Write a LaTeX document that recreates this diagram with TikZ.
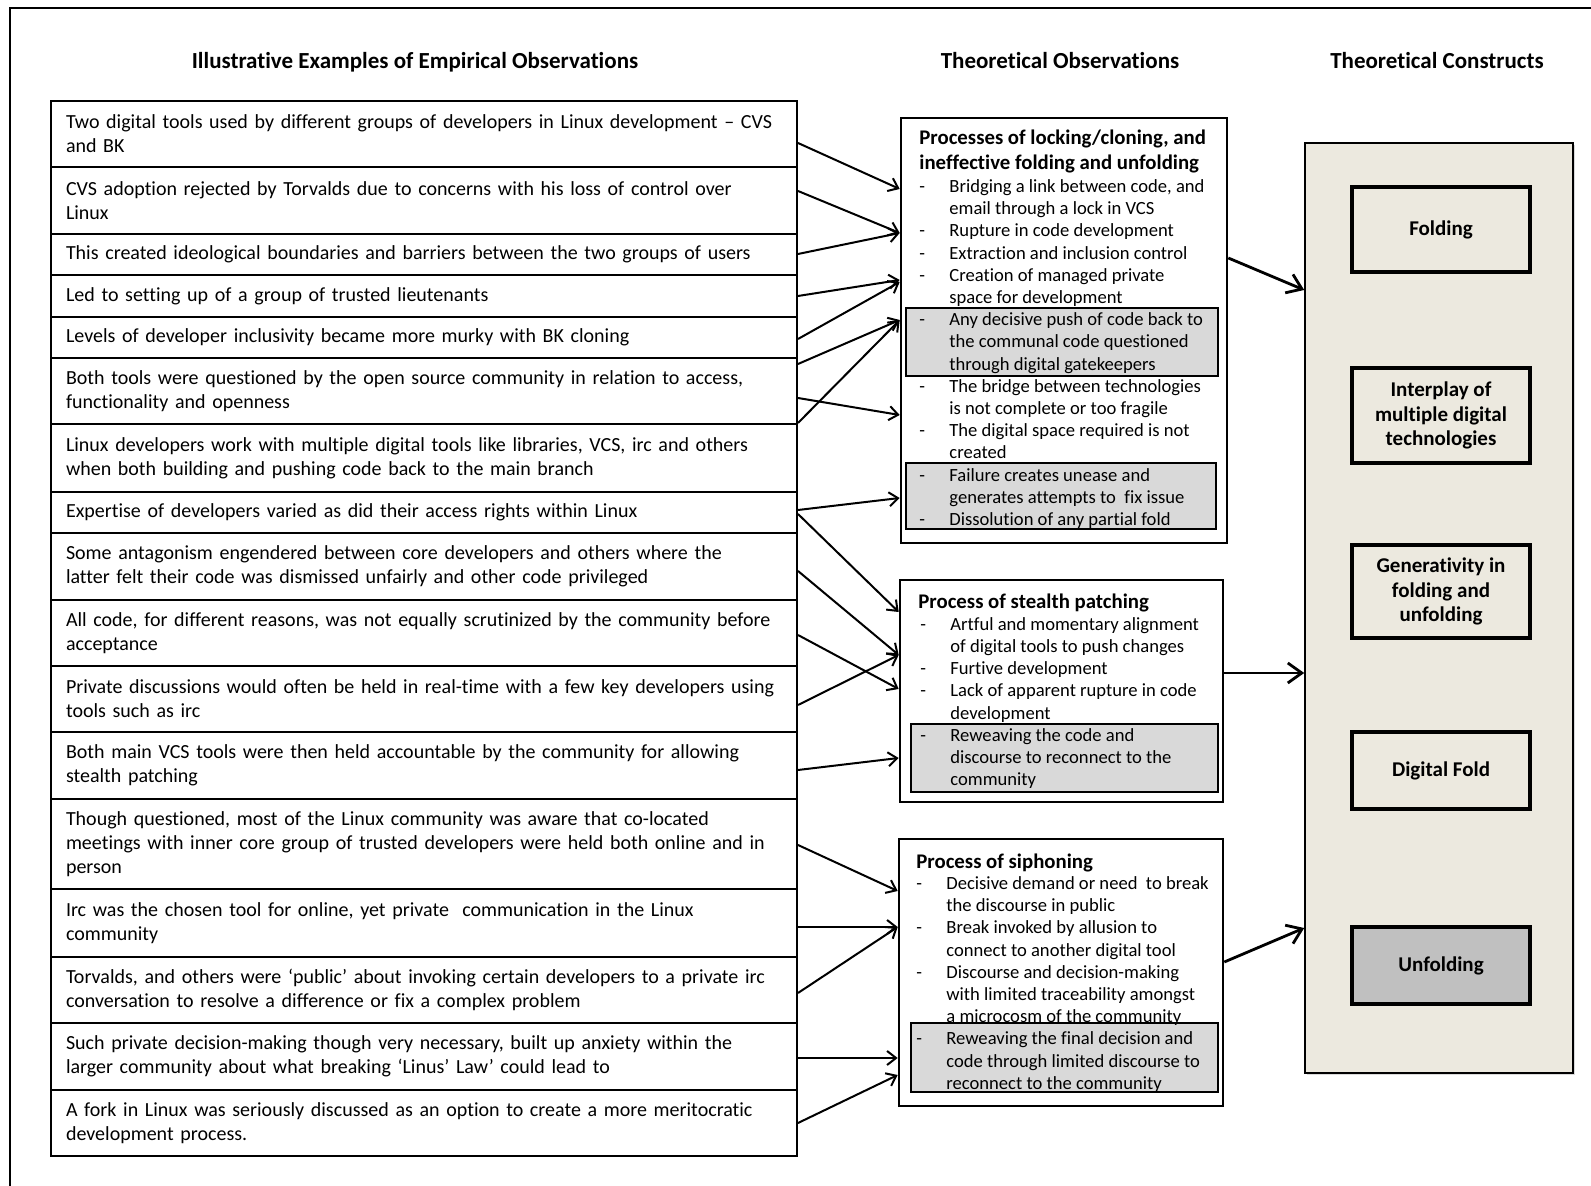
\documentclass[tikz,border=0pt]{standalone}
\usepackage{fontspec}
\setmainfont{Carlito}[Ligatures=NoCommon]
\usetikzlibrary{arrows.meta,positioning,shadows}
\definecolor{panel}{RGB}{236,233,223}
\definecolor{shade}{RGB}{217,217,217}
\definecolor{darkshade}{RGB}{192,192,192}
\tikzset{>={Straight Barb[length=4.5pt,width=7pt]}}
\tikzset{
  exrow/.style = {draw, line width=1pt, minimum width=373pt, text width=358pt,
    inner xsep=7.5pt, inner ysep=2pt, align=left, font=\fontsize{10}{12}\selectfont},
  colhead/.style = {anchor=base, font=\fontsize{11.5}{13}\selectfont\bfseries},
  obsbox/.style = {draw, line width=1.3pt, fill=white},
  graybox/.style = {draw, line width=0.8pt, fill=shade},
  obshead/.style = {anchor=west, inner sep=0pt, align=left,
    font=\fontsize{10.4}{12.5}\selectfont\bfseries},
  obslist/.style = {anchor=west, inner sep=0pt, align=left,
    font=\fontsize{9.3}{11.1}\selectfont},
  conbox/.style = {draw, line width=1.6pt, minimum width=89pt, align=center,
    font=\fontsize{10.5}{12.4}\selectfont\bfseries},
  link/.style = {->, line width=1pt},
  biglink/.style = {-{Straight Barb[length=7pt,width=10pt]}, line width=1.4pt}
}
\newcommand{\dsh}{\makebox[15pt][l]{-}}
\newcommand{\ind}{\hspace*{15pt}}

\begin{document}
\begin{tikzpicture}[x=0.5pt,y=-0.5pt]
  \useasboundingbox (0,0) rectangle (1591,1186);
  % outer frame
  \draw[line width=1pt] (10,1186) -- (10,8) -- (1591,8);

  % column headings
  \node[colhead] (hdremp) at (415,69) {Illustrative Examples of Empirical Observations};
  \node[colhead] (hdrobs) at (1060,69) {Theoretical Observations};
  \node[colhead] (hdrcon) at (1437,69) {Theoretical Constructs};

  % empirical observations
  \node[exrow, minimum height=33pt] (e1) at (424,134) {Two digital tools used by different groups of developers in Linux development – CVS\\ and BK};
  \node[exrow, minimum height=33.5pt] (e2) at (424,200.5) {CVS adoption rejected by Torvalds due to concerns with his loss of control over\\ Linux};
  \node[exrow, minimum height=20.5pt] (e3) at (424,254.5) {This created ideological boundaries and barriers between the two groups of users};
  \node[exrow, minimum height=21pt] (e4) at (424,296) {Led to setting up of a group of trusted lieutenants};
  \node[exrow, minimum height=20.5pt] (e5) at (424,337.5) {Levels of developer inclusivity became more murky with BK cloning};
  \node[exrow, minimum height=33pt] (e6) at (424,391) {Both tools were questioned by the open source community in relation to access,\\ functionality and openness};
  \node[exrow, minimum height=34pt] (e7) at (424,458) {Linux developers work with multiple digital tools like libraries, VCS, irc and others\\ when both building and pushing code back to the main branch};
  \node[exrow, minimum height=20.5pt] (e8) at (424,512.5) {Expertise of developers varied as did their access rights within Linux};
  \node[exrow, minimum height=33.5pt] (e9) at (424,566.5) {Some antagonism engendered between core developers and others where the\\ latter felt their code was dismissed unfairly and other code privileged};
  \node[exrow, minimum height=33pt] (e10) at (424,633) {All code, for different reasons, was not equally scrutinized by the community before\\ acceptance};
  \node[exrow, minimum height=33pt] (e11) at (424,699) {Private discussions would often be held in real-time with a few key developers using\\ tools such as irc};
  \node[exrow, minimum height=33.5pt] (e12) at (424,765.5) {Both main VCS tools were then held accountable by the community for allowing\\ stealth patching};
  \node[exrow, minimum height=45pt] (e13) at (424,844) {Though questioned, most of the Linux community was aware that co-located\\ meetings with inner core group of trusted developers were held both online and in\\ person};
  \node[exrow, minimum height=34pt] (e14) at (424,923) {Irc was the chosen tool for online, yet private\ \ communication in the Linux\\ community};
  \node[exrow, minimum height=33pt] (e15) at (424,990) {Torvalds, and others were ‘public’ about invoking certain developers to a private irc\\ conversation to resolve a difference or fix a complex problem};
  \node[exrow, minimum height=33.5pt] (e16) at (424,1056.5) {Such private decision-making though very necessary, built up anxiety within the\\ larger community about what breaking ‘Linus’ Law’ could lead to};
  \node[exrow, minimum height=33pt] (e17) at (424,1123) {A fork in Linux was seriously discussed as an option to create a more meritocratic\\ development process.};

  % theoretical observations
  \node[obsbox, minimum width=163pt, minimum height=212.5pt] (lock) at (1064,330.5) {};
  \node[graybox, minimum width=156pt, minimum height=34pt] (lockg1) at (1062,342) {};
  \node[graybox, minimum width=155pt, minimum height=33pt] (lockg2) at (1061,496) {};
  \node[obshead] (lockhd) at (919,151) {Processes of locking/cloning, and\\ineffective folding and unfolding};
  \node[obslist] (locktx) at (919,354) {\dsh Bridging a link between code, and\\
    \ind email through a lock in VCS\\
    \dsh Rupture in code development\\
    \dsh Extraction and inclusion control\\
    \dsh Creation of managed private\\
    \ind space for development\\
    \dsh Any decisive push of code back to\\
    \ind the communal code questioned\\
    \ind through digital gatekeepers\\
    \dsh The bridge between technologies\\
    \ind is not complete or too fragile\\
    \dsh The digital space required is not\\
    \ind created\\
    \dsh Failure creates unease and\\
    \ind generates attempts to\ \ fix issue\\
    \dsh Dissolution of any partial fold};

  \node[obsbox, minimum width=161.5pt, minimum height=111pt] (stealth) at (1061.5,691) {};
  \node[graybox, minimum width=153.5pt, minimum height=34pt] (stealthg) at (1064.5,758) {};
  \node[obshead] (stealthhd) at (918,603) {Process of stealth patching};
  \node[obslist] (stealthtx) at (920,703) {\dsh Artful and momentary alignment\\
    \ind of digital tools to push changes\\
    \dsh Furtive development\\
    \dsh Lack of apparent rupture in code\\
    \ind development\\
    \dsh Reweaving the code and\\
    \ind discourse to reconnect to the\\
    \ind community};

  \node[obsbox, minimum width=162pt, minimum height=133.5pt] (siphon) at (1061,972.5) {};
  \node[graybox, minimum width=153.5pt, minimum height=34.5pt] (siphong) at (1064.5,1057.5) {};
  \node[obshead] (siphonhd) at (916,863) {Process of siphoning};
  \node[obslist] (siphontx) at (916,984.5) {\dsh Decisive demand or need\ \ to break\\
    \ind the discourse in public\\
    \dsh Break invoked by allusion to\\
    \ind connect to another digital tool\\
    \dsh Discourse and decision-making\\
    \ind with limited traceability amongst\\
    \ind a microcosm of the community\\
    \dsh Reweaving the final decision and\\
    \ind code through limited discourse to\\
    \ind reconnect to the community};

  % theoretical constructs
  \node[draw, line width=0.8pt, fill=panel, minimum width=134pt, minimum height=465pt,
        drop shadow={shadow xshift=1.2pt, shadow yshift=-1.2pt, opacity=0.3}] (cons) at (1439,608) {};
  \node[conbox, minimum height=42.5pt] (fold) at (1441,229.5) {Folding};
  \node[conbox, minimum height=47.5pt] (interplay) at (1441,415.5) {Interplay of\\multiple digital\\technologies};
  \node[conbox, minimum height=46.5pt] (gener) at (1441,591.5) {Generativity in\\folding and\\unfolding};
  \node[conbox, minimum height=38.5pt] (dfold) at (1441,770.5) {Digital Fold};
  \node[conbox, minimum height=38.5pt, fill=darkshade] (unfold) at (1441,965.5) {Unfolding};

  % empirical -> theoretical observations
  \draw[link] (e1.east |- 0,143) -- (lock.west |- 0,189);
  \draw[link] (e2.east |- 0,191) -- (lock.west |- 0,233);
  \draw[link] (e3.east |- 0,254) -- (lock.west |- 0,233);
  \draw[link] (e4.east |- 0,296) -- (lock.west |- 0,280);
  \draw[link] (e5.east |- 0,339) -- (lock.west |- 0,282);
  \draw[link] (e6.east |- 0,364) -- (lock.west |- 0,320);
  \draw[link] (e6.east |- 0,398) -- (lock.west |- 0,415);
  \draw[link] (e7.north east) -- (lock.west |- 0,320);
  \draw[link] (e8.east |- 0,510) -- (lock.west |- 0,498);
  \draw[link] (e8.east |- 0,514) -- (stealth.west |- 0,612);
  \draw[link] (e9.east |- 0,571) -- (stealth.west |- 0,655);
  \draw[link] (e10.east |- 0,635) -- (stealth.west |- 0,689);
  \draw[link] (e11.east |- 0,705) -- (stealth.west |- 0,655);
  \draw[link] (e12.east |- 0,770) -- (stealth.west |- 0,758);
  \draw[link] (e13.east |- 0,845) -- (siphon.west |- 0,891);
  \draw[link] (e14.east |- 0,927) -- (siphon.west |- 0,927);
  \draw[link] (e15.east |- 0,993) -- (siphon.west |- 0,927);
  \draw[link] (e16.east |- 0,1058) -- (siphon.west |- 0,1058);
  \draw[link] (e17.east |- 0,1123) -- (siphon.west |- 0,1075);

  % theoretical observations -> constructs
  \draw[biglink] (lock.east |- 0,258) -- (cons.west |- 0,290);
  \draw[biglink] (stealth.east |- 0,673) -- (cons.west |- 0,673);
  \draw[biglink] (siphon.east |- 0,962) -- (cons.west |- 0,928);
\end{tikzpicture}
\end{document}
